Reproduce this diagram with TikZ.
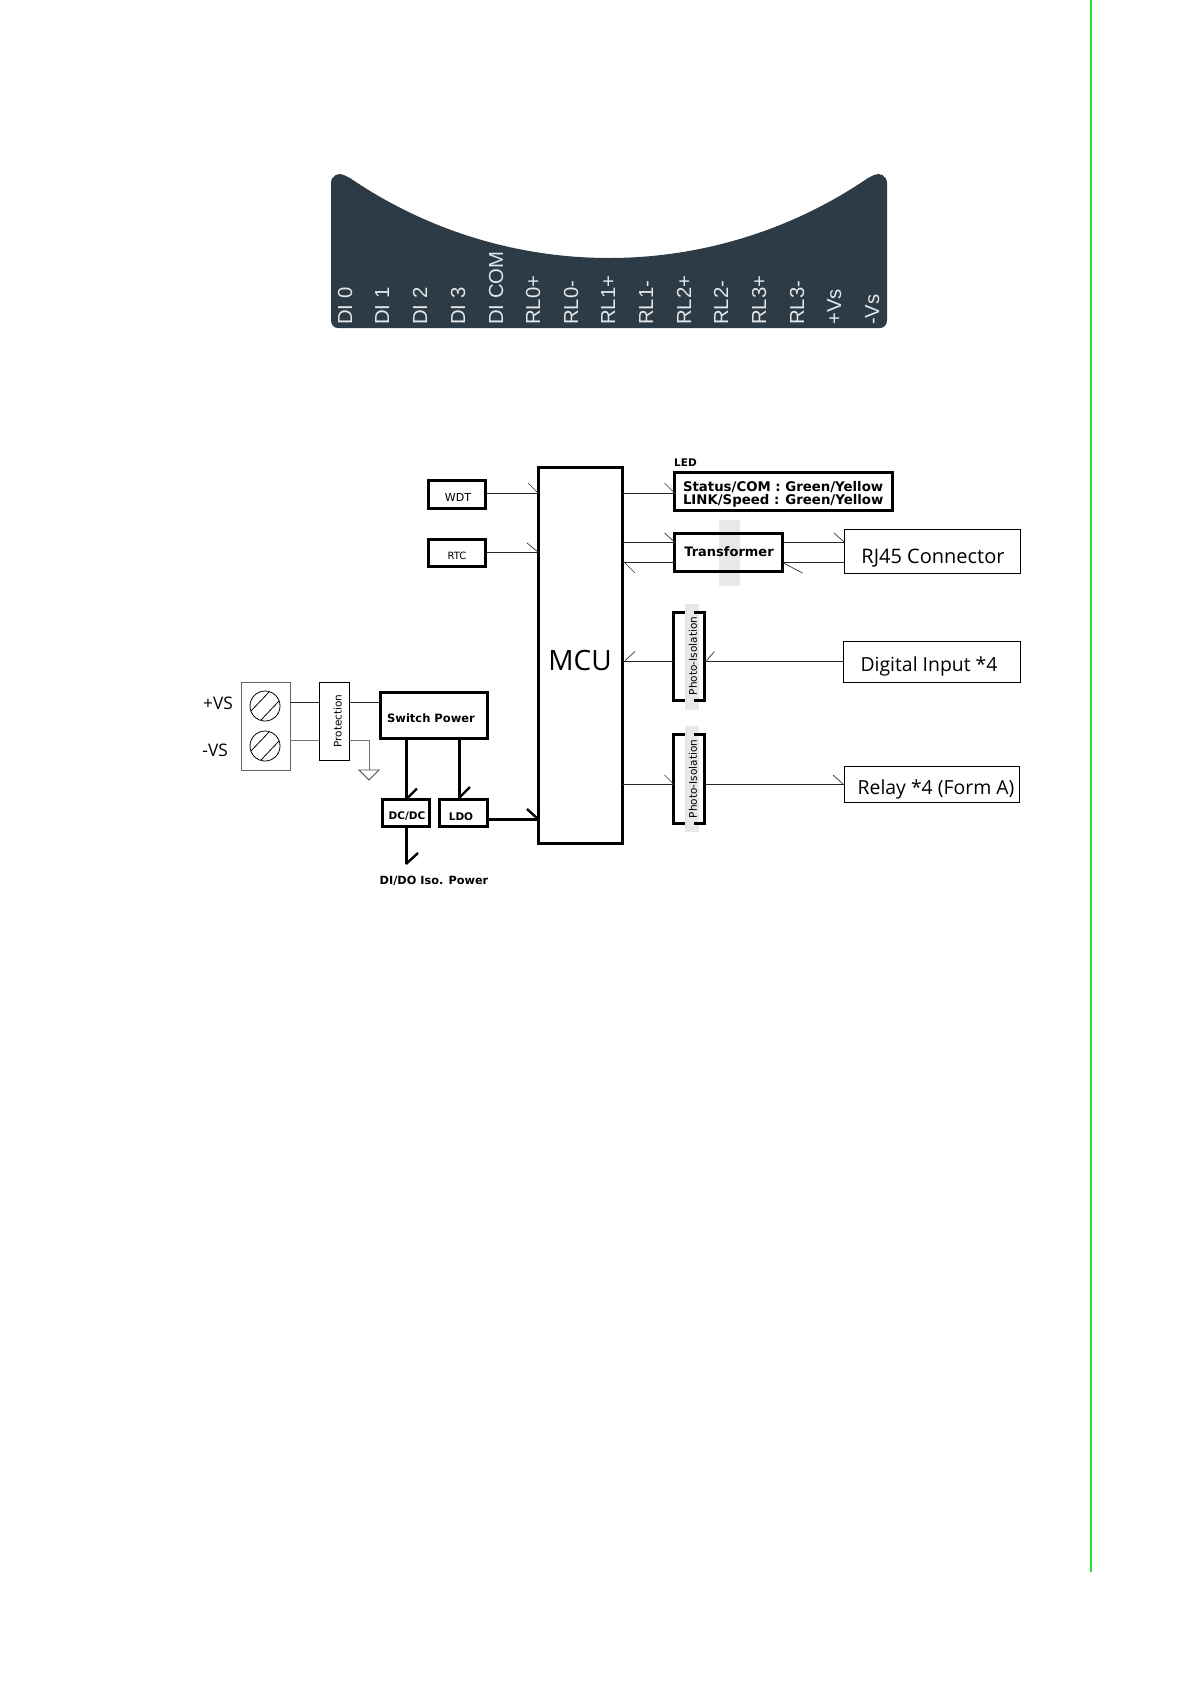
\documentclass[tikz,border=0pt]{standalone}
\usetikzlibrary{calc}
\usepackage{fontspec}
\setmainfont{DejaVu Sans}
\newfontfamily\arialf{Liberation Sans}
\newfontfamily\segoef{Open Sans}
\definecolor{panel}{HTML}{2C3B45}
\definecolor{paneltext}{HTML}{E4E7E9}
\definecolor{greenbar}{HTML}{22E52A}
\definecolor{ghost}{HTML}{E8E8E8}
\newcommand\tl[3]{\smash{\raisebox{#2pt}{\makebox[0pt]{\kern\dimexpr 2\dimexpr #1pt\relax\relax #3}}}}
\newcommand\fs[1]{\fontsize{#1}{#1}\selectfont}
\tikzset{
 x=1pt,y=-1pt,
 thinbox/.style={draw=black,line width=.8pt,fill=white,inner sep=0pt,outer sep=0pt},
 thickbox/.style={draw=black,line width=3.4pt,fill=white,inner sep=0pt,outer sep=0pt},
 mcubox/.style={thickbox,line width=3pt},
 wire/.style={draw=black!85,line width=1pt},
 greywire/.style={draw=black!55,line width=1pt},
 powerwire/.style={draw=black,line width=3pt},
 tick/.style={draw=black!80,line width=.7pt},
 powertick/.style={draw=black,line width=2.4pt},
 pinlabel/.style={text=paneltext,rotate=90,anchor=base west,inner sep=0pt,font=\arialf\fs{20.3}},
 bigtext/.style={font=\segoef\fs{20}},
 ghostbar/.style={fill=ghost,draw=none},
}
\begin{document}
\begin{tikzpicture}
\useasboundingbox (0,0) rectangle (1190,1684);
\fill[white] (0,0) rectangle (1190,1684);
\draw[greenbar,line width=2.4pt] (1091,0) -- (1091,1572);
% terminal panel
\fill[panel] (331,183) .. controls (331,176) and (338,172) .. (344,175)
  -- (350,178) .. controls (426,230) and (516.4,258) .. (609,258)
  .. controls (701.6,258) and (792,230) .. (868,178)
  -- (874,175) .. controls (880,172) and (887,176) .. (887,183)
  -- (887,320) .. controls (887,325) and (884,328) .. (880,328)
  -- (338,328) .. controls (334,328) and (331,325) .. (331,320) -- cycle;
\foreach \nm/\px/\txt in {p0/352/DI 0,p1/389/DI 1,p2/427/DI 2,p3/465/DI 3,p4/503/DI COM,
  p5/540/RL0+,p6/578/RL0-,p7/615/RL1+,p8/653/RL1-,p9/691/RL2+,p10/728/RL2-,p11/766/RL3+,
  p12/804/RL3-,p13/841/+Vs,p14/879/-Vs}
  \node[pinlabel] (\nm) at (\px,325) {\txt};
% ghost stripes
\fill[ghostbar] (719,520) rectangle (740,586);
\fill[ghostbar] (685,604) rectangle (699,710);
\fill[ghostbar] (685,726) rectangle (699,832);
% boxes
\node[mcubox,minimum width=84pt,minimum height=376pt] (mcu) at (580,655) {\segoef\fs{28}\tl{0}{-15.5}{MCU}};
\node[thickbox,minimum width=57pt,minimum height=28pt,font=\fs{11}] (wdt) at (457,494.5) {\tl{1}{-6.5}{WDT}};
\node[thickbox,minimum width=57pt,minimum height=27pt,font=\fs{10}] (rtc) at (457,553) {\tl{0}{-6}{RTC}};
\node[thickbox,minimum width=218pt,minimum height=38pt] (led) at (783.5,491.5) {\tl{1.5}{-12.5}{\parbox[b]{204pt}{\bfseries\fontsize{13.3}{12.3}\selectfont\raggedright Status/COM : Green/Yellow\\LINK/Speed : Green/Yellow}}};
\node[inner sep=0pt,anchor=base west,font=\bfseries\fs{10.5}] (ledt) at (674,466) {LED};
\node[thickbox,fill=none,minimum width=108pt,minimum height=38pt,font=\bfseries\fs{13}] (tr) at (728.5,552.5) {\tl{0.5}{-3.5}{Transformer}};
\node[thinbox,minimum width=176pt,minimum height=44pt,bigtext] (rj) at (932,551) {\tl{1}{-12}{RJ45 Connector}};
\node[thinbox,minimum width=177pt,minimum height=41pt,font=\segoef\fs{19.4}] (di) at (931.5,661.5) {\tl{-2.5}{-9.5}{Digital Input *4}};
\node[thinbox,minimum width=175pt,minimum height=36pt,font=\segoef\fs{19.4}] (rel) at (931.5,784) {\tl{4.5}{-10}{Relay *4 (Form A)}};
% photo isolators (open top and bottom around the text stripe)
\node[inner sep=0pt,outer sep=0pt,minimum width=31pt,minimum height=88pt] (ph1) at (689,656.5) {};
\node[inner sep=0pt,outer sep=0pt,minimum width=31pt,minimum height=89pt] (ph2) at (689,779) {};
\foreach \b in {ph1,ph2}{
  \draw[black,line width=3pt] (\b.north west) ++(11,0) -- (\b.north west) -- (\b.south west) -- ++(11,0);
  \draw[black,line width=3pt] (\b.north east) ++(-11,0) -- (\b.north east) -- (\b.south east) -- ++(-11,0);
}
\node[rotate=90,inner sep=0pt,font=\fs{10.5}] (pht1) at (693,656) {Photo-Isolation};
\node[rotate=90,inner sep=0pt,font=\fs{10.5}] (pht2) at (693,779) {Photo-Isolation};
% power section
\node[thinbox,draw=black!60,minimum width=49pt,minimum height=88pt] (term) at (265.5,726) {};
\node[circle,draw=black,line width=.8pt,minimum size=30pt,inner sep=0pt] (c1) at (265,706) {};
\node[circle,draw=black,line width=.8pt,minimum size=30pt,inner sep=0pt] (c2) at (265,746) {};
\foreach \c in {c1,c2}{
  \draw[black,line width=.8pt] ($(\c.center)+(-14,5)$) -- ($(\c.center)+(4,-14)$);
  \draw[black,line width=.8pt] ($(\c.center)+(-4,14)$) -- ($(\c.center)+(14,-5)$);
}
\node[inner sep=0pt,anchor=base east,font=\segoef\fs{17.3}] (vp) at (233,709) {+VS};
\node[inner sep=0pt,anchor=base east,font=\segoef\fs{17.3}] (vm) at (228,756) {-VS};
\node[thinbox,rotate=90,minimum width=78pt,minimum height=30pt,font=\fs{10.5}] (prot) at (334,721) {\tl{0}{-7.5}{Protection}};
\node[thickbox,minimum width=107pt,minimum height=46pt,font=\bfseries\fs{11.5}] (sw) at (434,715.5) {\tl{-3}{-6.5}{Switch Power}};
\node[thickbox,minimum width=47pt,minimum height=27pt,font=\bfseries\fs{10.5}] (dc) at (406,813) {\tl{1}{-6}{DC/DC}};
\node[thickbox,minimum width=48pt,minimum height=27pt,font=\bfseries\fs{10.5}] (ldo) at (463.5,813) {\tl{-2.5}{-7}{LDO}};
\node[inner sep=0pt,font=\bfseries\fs{11.3}] (iso) at (434,881) {DI/DO Iso. Power};
\coordinate (gnd) at (369,770);
\coordinate (isoend) at (406,864);
\coordinate (ldoin) at (459,798);
% signal wires
\path (wdt.east) ++(0,-1.5) coordinate (a1);
\draw[wire] (a1) -- (a1 -| mcu.west);
\draw[tick] ($(a1 -| mcu.west)+(-10,-10)$) -- (a1 -| mcu.west);
\path (rtc.east) ++(0,-1) coordinate (a2);
\draw[wire] (a2) -- (a2 -| mcu.west);
\draw[tick] ($(a2 -| mcu.west)+(-11,-9)$) -- (a2 -| mcu.west);
\path (led.west) ++(0,1.5) coordinate (a3);
\draw[wire] (a3 -| mcu.east) -- (a3);
\draw[tick] ($(a3)+(-10,-10)$) -- (a3);
\path (tr.west) ++(0,-10.5) coordinate (a4);
\path (tr.west) ++(0,9.5) coordinate (a5);
\draw[wire] (a4 -| mcu.east) -- (a4);
\draw[tick] ($(a4)+(-10,-9)$) -- (a4);
\draw[wire] (a5) -- (a5 -| mcu.east);
\draw[tick] ($(a5 -| mcu.east)+(3,1)$) -- ($(a5 -| mcu.east)+(13,11)$);
\path (tr.east) ++(0,-10.5) coordinate (a6);
\path (tr.east) ++(0,9.5) coordinate (a7);
\draw[wire] (a6) -- (a6 -| rj.west);
\draw[tick] ($(a6 -| rj.west)+(-10,-9)$) -- (a6 -| rj.west);
\draw[wire] (a7 -| rj.west) -- (a7);
\draw[tick] ($(a7)+(1,1)$) -- ($(a7)+(20,11)$);
\path (di.west) coordinate (a8);
\draw[wire] (a8) -- (a8 -| ph1.east);
\draw[tick] ($(a8 -| ph1.east)+(2,-1)$) -- ($(a8 -| ph1.east)+(10,-10)$);
\draw[wire] (a8 -| ph1.west) -- (a8 -| mcu.east);
\draw[tick] ($(a8 -| mcu.east)+(3,-1)$) -- ($(a8 -| mcu.east)+(13,-10)$);
\path (rel.west) coordinate (a9);
\draw[wire] (a9 -| mcu.east) -- (a9 -| ph2.west);
\draw[tick] ($(a9 -| ph2.west)+(-9,-9)$) -- (a9 -| ph2.west);
\draw[wire] (a9 -| ph2.east) -- (a9);
\draw[tick] ($(a9)+(-11,-9)$) -- ($(a9)+(-1,0)$);
% power wires
\path (term.east) ++(0,-24) coordinate (b1);
\path (term.east) ++(0,14) coordinate (b2);
\draw[wire] (b1) -- (b1 -| prot.north);
\draw[greywire] (b2) -- (b2 -| prot.north);
\draw[wire] (b1 -| prot.south) -- (b1 -| sw.west);
\draw[greywire] (b2 -| prot.south) -- (b2 -| gnd) -- (gnd);
\draw[black!70,line width=.8pt] ($(gnd)+(-10,0)$) -- ($(gnd)+(10,0)$) -- ($(gnd)+(0,10)$) -- cycle;
\draw[powerwire] (sw.south -| dc) -- (dc.north);
\draw[powertick] (dc.north) -- ++(11,-11);
\draw[powerwire] (sw.south -| ldoin) -- (ldoin);
\draw[powertick] (ldoin) -- ++(11,-11);
\draw[powerwire] (dc.south) -- (isoend);
\draw[powertick] (isoend) -- ++(12,-11);
\path (ldo.east) ++(0,6) coordinate (b3);
\draw[powerwire] (b3) -- (b3 -| mcu.west);
\draw[powertick] ($(b3 -| mcu.west)+(-11,-10)$) -- (b3 -| mcu.west);
\end{tikzpicture}
\end{document}
